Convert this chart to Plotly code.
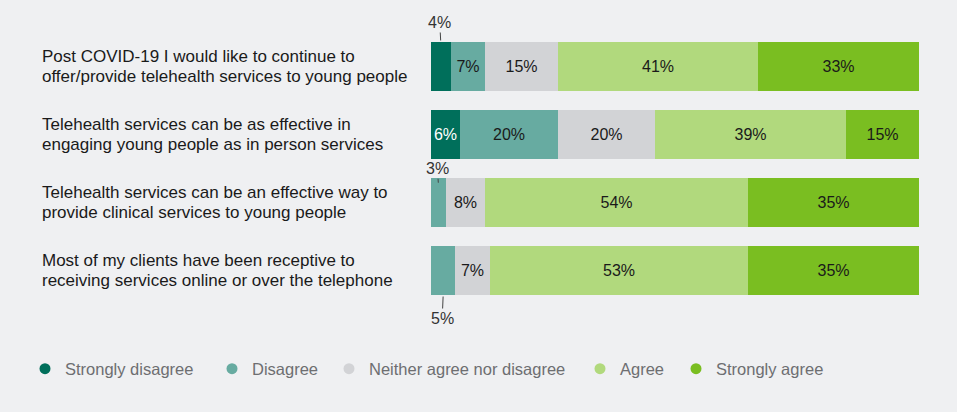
import plotly.graph_objects as go

# Survey statements (top to bottom), two lines each
statements = [
    ("Post COVID-19 I would like to continue to", "offer/provide telehealth services to young people"),
    ("Telehealth services can be as effective in", "engaging young people as in person services"),
    ("Telehealth services can be an effective way to", "provide clinical services to young people"),
    ("Most of my clients have been receptive to", "receiving services online or over the telephone"),
]

# Percent of respondents per response level
strongly_disagree = [4, 6, 0, 0]
disagree = [7, 20, 3, 5]
neither = [15, 20, 8, 7]
agree = [41, 39, 54, 53]
strongly_agree = [33, 15, 35, 35]

series_names = ["Strongly disagree", "Disagree", "Neither agree nor disagree", "Agree", "Strongly agree"]
series_values = [strongly_disagree, disagree, neither, agree, strongly_agree]
series_colors = ["#006f5b", "#67aba1", "#d2d3d6", "#b1d97d", "#7abe21"]

# Segments too narrow for an inside label get a callout instead
MIN_INSIDE = 6

BG = "#eff0f2"
FONT = "Liberation Sans, Arial, sans-serif"
W, H = 957, 412

fig = go.Figure()
rows = list(range(len(statements)))

legend_ids = ["legend", "legend2", "legend3", "legend4", "legend5"]
legend_left_px = [25, 212, 329, 580, 676]

for k, (name, vals, color) in enumerate(zip(series_names, series_values, series_colors)):
    texts = [f"{v}%" if v >= MIN_INSIDE else "" for v in vals]
    font_colors = ["white" if k == 0 else "#1a1a1a" for _ in vals]
    fig.add_trace(go.Bar(
        y=rows, x=vals, orientation="h", name=name,
        marker=dict(color=color, line=dict(width=0)),
        width=0.72,
        text=texts, textposition="inside", insidetextanchor="middle",
        textangle=0, constraintext="none",
        textfont=dict(family=FONT, size=16, color=font_colors),
        showlegend=False, hoverinfo="skip",
    ))
    # round legend markers, one legend box per entry
    fig.add_trace(go.Scatter(
        x=[None], y=[None], mode="markers", name=name,
        marker=dict(symbol="circle", size=11, color=color),
        showlegend=True, legend=legend_ids[k],
    ))

# Statement labels on the left
for i, (l1, l2) in enumerate(statements):
    for line, shift in ((l1, 10), (l2, -10)):
        fig.add_annotation(
            x=40 / W, xref="paper", y=i, yref="y", yshift=shift, text=line,
            showarrow=False, xanchor="left", yanchor="middle", align="left",
            font=dict(family=FONT, size=17, color="#1a1a1a"),
        )

# Callout labels for small segments: row -> (anchor offset into row, text offset px, standoff)
callout_style = {0: (-0.36, -20, 2), 2: (-0.29, -14, 0), 3: (0.36, 24, 2)}
for idx, vals in enumerate(series_values):
    for i, v in enumerate(vals):
        if 0 < v < MIN_INSIDE:
            start = sum(series_values[k][i] for k in range(idx))
            dy, ay, standoff = callout_style[i]
            fig.add_annotation(
                x=start + v / 2, y=i + dy, xref="x", yref="y",
                text=f"{v}%", showarrow=True, arrowhead=0, arrowwidth=1,
                arrowcolor="#444", ax=-1, ay=ay, standoff=standoff,
                font=dict(family=FONT, size=16, color="#333"),
            )

legend_common = dict(
    orientation="h", y=1 - 369 / H, xanchor="left", yanchor="middle",
    font=dict(family=FONT, size=16.5, color="#6d6e71"),
    bgcolor="rgba(0,0,0,0)", itemclick=False, itemdoubleclick=False,
)
legend_layout = {lid: dict(legend_common, x=px / W) for lid, px in zip(legend_ids, legend_left_px)}

fig.update_layout(
    width=W, height=H,
    margin=dict(l=0, r=0, t=0, b=0),
    paper_bgcolor=BG, plot_bgcolor=BG,
    barmode="stack", bargap=0,
    xaxis=dict(domain=[431 / W, 919 / W], range=[0, 100], visible=False, fixedrange=True),
    yaxis=dict(domain=[1 - 304 / H, 1 - 33 / H], range=[3.5, -0.5], visible=False, fixedrange=True),
    font=dict(family=FONT),
    **legend_layout,
)

fig.write_html("out.html")
